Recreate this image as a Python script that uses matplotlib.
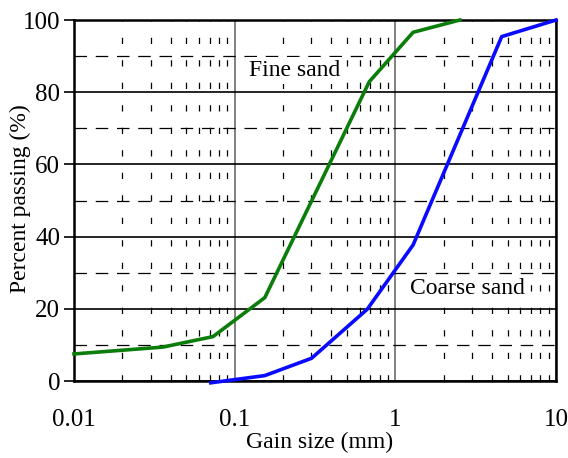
import matplotlib.pyplot as plt
import numpy as np
from matplotlib.ticker import LogLocator, FixedLocator, NullFormatter

plt.rcParams['font.family'] = ['Liberation Serif', 'DejaVu Serif']
plt.rcParams['mathtext.fontset'] = 'stix'

# grain size distribution
fine_size = [0.01, 0.0358, 0.0733, 0.154, 0.688, 1.29, 2.52]
fine_pass = [7.5, 9.4, 12.3, 23.1, 82.9, 96.6, 100.0]

coarse_size = [0.071, 0.154, 0.301, 0.669, 1.29, 4.59, 10.0]
coarse_pass = [-0.5, 1.5, 6.3, 19.9, 37.7, 95.4, 100.0]

x_ticks = [0.01, 0.1, 1, 10]
x_ticklabels = ['0.01', '0.1', '1', '10']
y_ticks = [0, 20, 40, 60, 80, 100]

fig = plt.figure(figsize=(5.68, 4.58), dpi=100)
ax = fig.add_axes([0.1303, 0.1681, 0.8486, 0.7882])

ax.set_xscale('log')
ax.set_xlim(0.01, 10)
ax.set_ylim(0, 100)

# grid: solid majors, dashed minors
ax.xaxis.set_major_locator(FixedLocator(x_ticks))
ax.set_xticklabels(x_ticklabels)
ax.xaxis.set_minor_locator(LogLocator(base=10, subs=np.arange(2, 10)))
ax.xaxis.set_minor_formatter(NullFormatter())
ax.yaxis.set_major_locator(FixedLocator(y_ticks))
ax.yaxis.set_minor_locator(FixedLocator([10, 30, 50, 70, 90]))

ax.grid(axis='x', which='major', color='#808080', lw=1.4)
ax.grid(axis='y', which='major', color='black', lw=1.2)
ax.grid(axis='x', which='minor', color='black', lw=0.9, linestyle=(0, (5, 13)))
ax.grid(axis='y', which='minor', color='black', lw=0.9, linestyle=(0, (10, 7)))
ax.set_axisbelow(True)

ax.plot(fine_size, fine_pass, color='#0a7d0a', lw=2.6, clip_on=False, zorder=3)
ax.plot(coarse_size, coarse_pass, color='#0a0aff', lw=2.6, clip_on=False, zorder=3)

box = dict(facecolor='white', edgecolor='none', pad=2)
ax.text(0.122, 86, 'Fine sand', fontsize=17, va='center', bbox=box, zorder=2)
ax.text(1.24, 25.5, 'Coarse sand', fontsize=17, va='center', bbox=box, zorder=2)

for s in ax.spines.values():
    s.set_linewidth(1.8)

ax.tick_params(axis='x', which='major', length=0, pad=20, labelsize=18)
ax.tick_params(axis='x', which='minor', length=0)
ax.tick_params(axis='y', which='major', direction='out', length=7, width=1.2,
               pad=3, labelsize=18)
ax.tick_params(axis='y', which='minor', length=0)

ax.set_xlabel('Gain size (mm)', fontsize=17)
ax.xaxis.set_label_coords(0.51, -0.14)
ax.set_ylabel('Percent passing (%)', fontsize=17)
ax.yaxis.set_label_coords(-0.09, 0.504)

fig.savefig('out.png', dpi=100)
